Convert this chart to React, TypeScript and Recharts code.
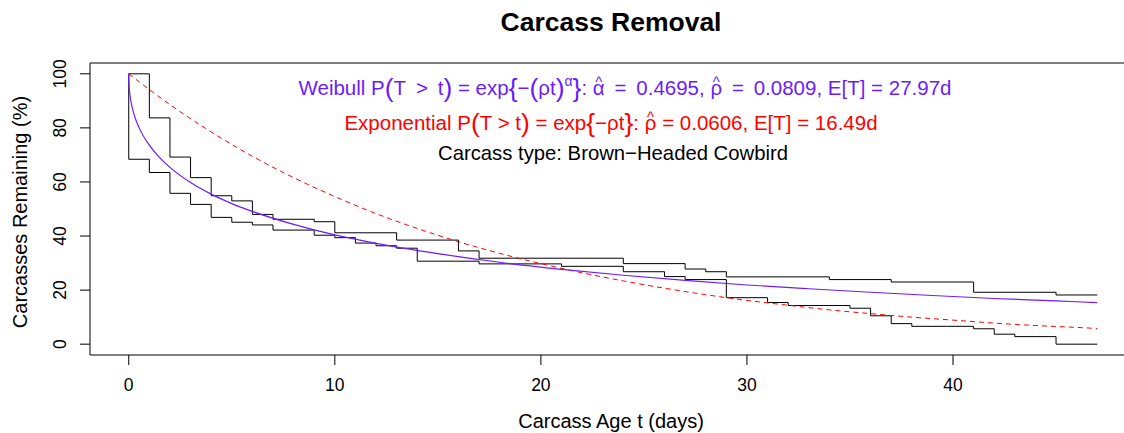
import React from "react";
import { LineChart, Line, XAxis, YAxis, ReferenceArea } from "recharts";

const upperDays = [0, 1, 2, 3, 4, 5, 6, 7, 9, 10, 13, 16, 17, 24, 27, 28, 29, 34, 37, 41, 45, 47];
const upperPct = [100, 83.7, 69.2, 61.6, 54.9, 53.0, 48.0, 46.2, 45.3, 41.2, 38.5, 34.5, 31.8, 29.8, 27.8, 26.8, 24.9, 23.9, 23.0, 19.2, 18.2, 18.2];

const lowerDays = [0, 0, 1, 2, 3, 4, 5, 6, 7, 9, 10, 11, 12, 13, 14, 17, 21, 24, 26, 27, 29, 31, 32, 35, 36, 37, 38, 41, 42, 43, 45, 47];
const lowerPct = [100, 68.4, 63.5, 55.8, 51.7, 46.9, 45.1, 44.1, 42.2, 40.3, 39.4, 37.4, 36.4, 35.5, 30.7, 29.7, 28.8, 26.8, 25.0, 23.9, 17.2, 15.4, 14.3, 13.3, 10.5, 7.6, 6.6, 5.7, 3.7, 2.8, 0, 0];

const weibullDays = [0, 0.02, 0.05, 0.1, 0.25, 0.5, 1, 1.5, 2, 3, 4, 5, 6, 8, 10, 12, 15, 18, 21, 24, 27, 30, 33, 36, 39, 42, 45, 47];
const weibullPct = [100, 95.2, 92.8, 90.1, 85.2, 80.1, 73.6, 69.0, 65.4, 59.8, 55.5, 52.0, 49.1, 44.3, 40.4, 37.3, 33.5, 30.3, 27.7, 25.5, 23.6, 21.9, 20.5, 19.2, 18.0, 16.9, 16.0, 15.4];

const expDays = [0, 2, 4, 6, 8, 10, 12, 14, 16, 18, 20, 22, 24, 26, 28, 30, 32, 34, 36, 38, 40, 42, 44, 46, 47];
const expPct = [100, 88.6, 78.5, 69.5, 61.6, 54.6, 48.3, 42.8, 37.9, 33.6, 29.8, 26.4, 23.4, 20.7, 18.3, 16.2, 14.4, 12.7, 11.3, 10.0, 8.9, 7.8, 6.9, 6.2, 5.8];

const xTicks = [0, 10, 20, 30, 40];
const yTicks = [0, 20, 40, 60, 80, 100];
const xDomain = [-1.88, 48.88];
const yDomain = [-4, 104];

const PURPLE = "#6B1CFF";
const RED = "#FF0000";
const FONT = "'Liberation Sans', Arial, Helvetica, sans-serif";

const pairs = (t: number[], v: number[]) => t.map((d, i) => ({ t: d, v: v[i] }));

const upperData = pairs(upperDays, upperPct);
const lowerData = pairs(lowerDays, lowerPct);
const weibullData = pairs(weibullDays, weibullPct);
const expData = pairs(expDays, expPct);

const XTick = (props: any) => (
  <text x={props.x} y={391} textAnchor="middle" fontSize={17.5} fill="#000" fontFamily={FONT}>
    {props.payload.value}
  </text>
);

const YTick = (props: any) => (
  <text
    x={66}
    y={props.y}
    transform={`rotate(-90, 66, ${props.y})`}
    textAnchor="middle"
    fontSize={17.5}
    fill="#000"
    fontFamily={FONT}
  >
    {props.payload.value}
  </text>
);

// plotmath style hat(): letter, then a small ^ moved back over it.
// the tspan after it must undo the shift (dx = hatRest(w), dy = 8)
const HAT_W = 7;
const hatRest = (w: number) => (w - HAT_W) / 2;
function hatted(ch: string, w: number, k: string) {
  return [
    <tspan key={k + "c"}>{ch}</tspan>,
    <tspan key={k + "h"} fontSize={15} dx={-(w - hatRest(w))} dy={-8}>^</tspan>,
  ];
}

function Overlay() {
  const big = { fontSize: 26.5 };
  const sp = "\u2009";
  return (
    <svg width={1124} height={433} style={{ position: "absolute", left: 0, top: 0, pointerEvents: "none" }}>
      <text x={611} y={31} textAnchor="middle" fontSize={26.5} fontWeight="bold" fontFamily={FONT} fill="#000">
        Carcass Removal
      </text>
      <text x={625} y={95} textAnchor="middle" fontSize={20.5} fontFamily={FONT} fill={PURPLE}>
        Weibull P<tspan {...big} dy={2}>(</tspan>
        <tspan dy={-2}>{`T${sp} > ${sp}t`}</tspan>
        <tspan {...big} dy={2}>)</tspan>
        <tspan dy={-2}>{` = exp`}</tspan>
        <tspan {...big} dy={2}>{"{"}</tspan>
        <tspan dy={-2}>{"\u2212"}</tspan>
        <tspan {...big} dy={2}>(</tspan>
        <tspan dy={-2}>{"\u03C1t"}</tspan>
        <tspan {...big} dy={2}>)</tspan>
        <tspan fontSize={14} dy={-11}>{"\u03B1"}</tspan>
        <tspan {...big} dy={11}>{"}"}</tspan>
        <tspan dy={-2}>{": "}</tspan>
        {hatted("\u03B1", 11.9, "a")}
        <tspan dx={hatRest(11.9)} dy={8}>{`${sp} = ${sp}0.4695, `}</tspan>
        {hatted("\u03C1", 11.7, "r")}
        <tspan dx={hatRest(11.7)} dy={8}>{`${sp} = ${sp}0.0809, E[T] = 27.97d`}</tspan>
      </text>
      <text x={611} y={130} textAnchor="middle" fontSize={20.5} fontFamily={FONT} fill={RED}>
        Exponential P<tspan {...big} dy={2}>(</tspan>
        <tspan dy={-2}>T &gt; t</tspan>
        <tspan {...big} dy={2}>)</tspan>
        <tspan dy={-2}> = exp</tspan>
        <tspan {...big} dy={2}>{"{"}</tspan>
        <tspan dy={-2}>{"\u2212\u03C1t"}</tspan>
        <tspan {...big} dy={2}>{"}"}</tspan>
        <tspan dy={-2}>{": "}</tspan>
        {hatted("\u03C1", 11.7, "e")}
        <tspan dx={hatRest(11.7)} dy={8}>{" = 0.0606, E[T] = 16.49d"}</tspan>
      </text>
      <text x={613} y={160} textAnchor="middle" fontSize={20.3} fontFamily={FONT} fill="#000">
        {"Carcass type: Brown\u2212Headed Cowbird"}
      </text>
      <text x={611} y={428} textAnchor="middle" fontSize={20} fontFamily={FONT} fill="#000">
        Carcass Age t (days)
      </text>
      <text
        x={27}
        y={212}
        transform="rotate(-90, 27, 212)"
        textAnchor="middle"
        fontSize={20}
        fontFamily={FONT}
        fill="#000"
      >
        Carcasses Remaining (%)
      </text>
    </svg>
  );
}

export default function App() {
  return (
    <div
      style={{
        position: "absolute",
        left: 0,
        top: 0,
        width: 1124,
        height: 433,
        overflow: "hidden",
        background: "#fff",
        fontFamily: FONT,
      }}
    >
      <LineChart width={1150} height={433} margin={{ top: 63, right: 14, bottom: 48, left: 60 }}>
        <XAxis
          dataKey="t"
          type="number"
          domain={xDomain}
          ticks={xTicks}
          allowDataOverflow
          axisLine={false}
          tickSize={10}
          tickLine={{ stroke: "#000" }}
          tick={<XTick />}
          height={30}
        />
        <YAxis
          type="number"
          domain={yDomain}
          ticks={yTicks}
          allowDataOverflow
          axisLine={false}
          tickSize={10}
          tickLine={{ stroke: "#000" }}
          tick={<YTick />}
          width={30}
        />
        <ReferenceArea
          x1={xDomain[0]}
          x2={xDomain[1]}
          y1={yDomain[0]}
          y2={yDomain[1]}
          fill="none"
          stroke="#000"
          strokeWidth={1}
          fillOpacity={0}
        />
        <Line data={upperData} dataKey="v" type="stepAfter" stroke="#000" strokeWidth={1} dot={false} isAnimationActive={false} />
        <Line data={lowerData} dataKey="v" type="stepAfter" stroke="#000" strokeWidth={1} dot={false} isAnimationActive={false} />
        <Line
          data={expData}
          dataKey="v"
          type="monotone"
          stroke={RED}
          strokeWidth={1}
          strokeDasharray="5 4"
          dot={false}
          isAnimationActive={false}
        />
        <Line data={weibullData} dataKey="v" type="monotone" stroke={PURPLE} strokeWidth={1.2} dot={false} isAnimationActive={false} />
      </LineChart>
      <Overlay />
    </div>
  );
}
